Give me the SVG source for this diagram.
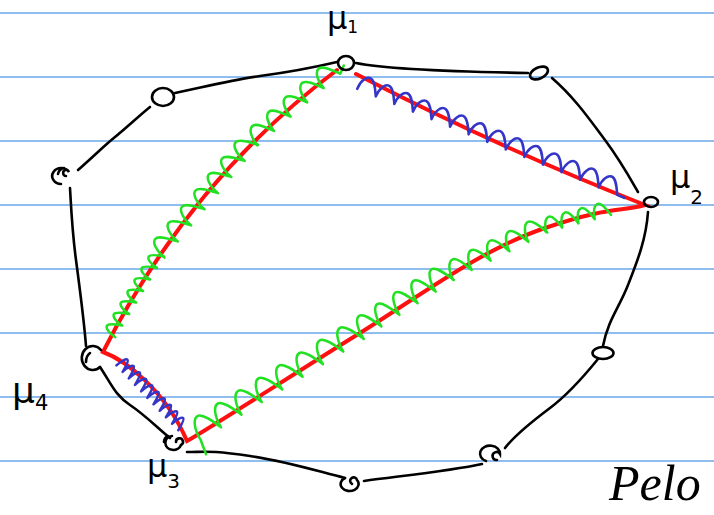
<svg xmlns="http://www.w3.org/2000/svg" width="714" height="515" viewBox="0 0 714 515">
<style>
.rule{stroke:#6aa7e8;stroke-width:1.5}
.edge{fill:none;stroke:#000;stroke-width:2.6;stroke-linecap:round;stroke-linejoin:round}
.node{fill:none;stroke:#000;stroke-width:2.6;stroke-linecap:round}
.red{fill:none;stroke:#ff1010;stroke-width:4;stroke-linecap:round;stroke-linejoin:miter}
.grn{fill:none;stroke:#22e022;stroke-width:2.5;stroke-linecap:round;stroke-linejoin:round}
.blu{fill:none;stroke:#3535c8;stroke-width:2.5;stroke-linecap:round;stroke-linejoin:round}
.lbl{font-family:"DejaVu Sans","Liberation Sans",sans-serif;fill:#000}
.sig{font-family:"Liberation Serif","DejaVu Serif",serif;font-style:italic;fill:#000}
</style>
<rect width="714" height="515" fill="#fff"/>
<g id="rules">
<line class="rule" x1="0" y1="13" x2="714" y2="13"/>
<line class="rule" x1="0" y1="77" x2="714" y2="77"/>
<line class="rule" x1="0" y1="141" x2="714" y2="141"/>
<line class="rule" x1="0" y1="205" x2="714" y2="205"/>
<line class="rule" x1="0" y1="269" x2="714" y2="269"/>
<line class="rule" x1="0" y1="333" x2="714" y2="333"/>
<line class="rule" x1="0" y1="397" x2="714" y2="397"/>
<line class="rule" x1="0" y1="461" x2="714" y2="461"/>
</g>
<g id="connectors">
<path class="edge" d="M356 63 C390 70 470 72 528 73"/>
<path class="edge" d="M552 78 C575 98 590 120 605 140 S630 178 638 192"/>
<path class="edge" d="M648 212 C646 240 637 262 628 285 S608 320 603 346"/>
<path class="edge" d="M598 359 C585 375 570 393 550 408 S515 435 505 448"/>
<path class="edge" d="M482 464 C450 471 400 476 364 481"/>
<path class="edge" d="M345 478 C320 472 290 462 250 456 S205 452 187 452"/>
<path class="edge" d="M170 438 C160 430 145 415 130 405 S112 385 100 367"/>
<path class="edge" d="M86 346 C84 320 80 290 76 260 S71 205 70 188"/>
<path class="edge" d="M78 170 C95 155 105 145 115 137 S140 115 150 107"/>
<path class="edge" d="M175 93 C200 88 230 80 260 76 S320 66 337 62"/>
<path class="red" d="M337 70 Q190 180 103 352 C125 360 165 390 187 441 C215 425 300 370 360 333 S480 250 545 228 S620 212 645 205 Q495 146 356 74"/>
<g id="green-m1-m4">
<path class="grn" transform="translate(111.9 335) rotate(-58.9)" d="M0 4 c0 -7.8 2.69 -13 5.38 -13 c3.37 0 6.06 7.8 8.08 13 c0 -7.8 2.69 -13 5.38 -13 c3.37 0 6.06 7.8 8.08 13 c0 -7.8 2.69 -13 5.38 -13 c3.37 0 6.06 7.8 8.08 13 c0 -7.8 2.69 -13 5.38 -13 c3.37 0 6.06 7.8 8.08 13 c0 -7.8 2.69 -13 5.38 -13 c3.37 0 6.06 7.8 8.08 13 c0 -7.8 2.69 -13 5.38 -13 c3.37 0 6.06 7.8 8.08 13 c0 -7.8 2.69 -13 5.38 -13 c3.37 0 6.06 7.8 8.08 13"/>
<path class="grn" transform="translate(160.6 254.4) rotate(-50.3)" d="M0 5 c0 -11.4 4.19 -19 8.38 -19 c5.24 0 9.42 11.4 12.56 19 c0 -11.4 4.19 -19 8.38 -19 c5.24 0 9.42 11.4 12.56 19 c0 -11.4 4.19 -19 8.38 -19 c5.24 0 9.42 11.4 12.56 19 c0 -11.4 4.19 -19 8.38 -19 c5.24 0 9.42 11.4 12.56 19 c0 -11.4 4.19 -19 8.38 -19 c5.24 0 9.42 11.4 12.56 19 c0 -11.4 4.19 -19 8.38 -19 c5.24 0 9.42 11.4 12.56 19 c0 -11.4 4.19 -19 8.38 -19 c5.24 0 9.42 11.4 12.56 19"/>
<path class="grn" transform="translate(254.2 141.6) rotate(-40.85)" d="M0 5 c0 -10.8 4.38 -18 8.76 -18 c5.48 0 9.86 10.8 13.14 18 c0 -10.8 4.38 -18 8.76 -18 c5.48 0 9.86 10.8 13.14 18 c0 -10.8 4.38 -18 8.76 -18 c5.48 0 9.86 10.8 13.14 18 c0 -10.8 4.38 -18 8.76 -18 c5.48 0 9.86 10.8 13.14 18 c0 -10.8 4.38 -18 8.76 -18 c5.48 0 9.86 10.8 13.14 18 l8 -4"/>
</g>
<g id="green-m3-m2">
<path class="grn" transform="translate(197 434) rotate(-31.78)" d="M-3 22 L0 7 c0 -13.2 4.79 -22 9.59 -22 c5.99 0 10.79 13.2 14.38 22 c0 -13.2 4.79 -22 9.59 -22 c5.99 0 10.79 13.2 14.38 22 c0 -13.2 4.79 -22 9.59 -22 c5.99 0 10.79 13.2 14.38 22 c0 -13.2 4.79 -22 9.59 -22 c5.99 0 10.79 13.2 14.38 22 c0 -13.2 4.79 -22 9.59 -22 c5.99 0 10.79 13.2 14.38 22 c0 -13.2 4.79 -22 9.59 -22 c5.99 0 10.79 13.2 14.38 22 c0 -13.2 4.79 -22 9.59 -22 c5.99 0 10.79 13.2 14.38 22 c0 -13.2 4.79 -22 9.59 -22 c5.99 0 10.79 13.2 14.38 22"/>
<path class="grn" transform="translate(360 333) rotate(-32.67)" d="M0 6 c0 -12.6 4.3 -21 8.61 -21 c5.38 0 9.68 12.6 12.91 21 c0 -12.6 4.3 -21 8.61 -21 c5.38 0 9.68 12.6 12.91 21 c0 -12.6 4.3 -21 8.61 -21 c5.38 0 9.68 12.6 12.91 21 c0 -12.6 4.3 -21 8.61 -21 c5.38 0 9.68 12.6 12.91 21 c0 -12.6 4.3 -21 8.61 -21 c5.38 0 9.68 12.6 12.91 21"/>
<path class="grn" transform="translate(450.6 274.9) rotate(-26.42)" d="M0 5 c0 -10.8 4.22 -18 8.43 -18 c5.27 0 9.49 10.8 12.65 18 c0 -10.8 4.22 -18 8.43 -18 c5.27 0 9.49 10.8 12.65 18 c0 -10.8 4.22 -18 8.43 -18 c5.27 0 9.49 10.8 12.65 18 c0 -10.8 4.22 -18 8.43 -18 c5.27 0 9.49 10.8 12.65 18 c0 -10.8 4.22 -18 8.43 -18 c5.27 0 9.49 10.8 12.65 18"/>
<path class="grn" transform="translate(545 228) rotate(-14.66)" d="M0 4 c0 -8.4 3.36 -14 6.72 -14 c4.2 0 7.56 8.4 10.08 14 c0 -8.4 3.36 -14 6.72 -14 c4.2 0 7.56 8.4 10.08 14 c0 -8.4 3.36 -14 6.72 -14 c4.2 0 7.56 8.4 10.08 14 c0 -8.4 3.36 -14 6.72 -14 c4.2 0 7.56 8.4 10.08 14"/>
</g>
<g id="blue-m1-m2">
<path class="blu" transform="translate(360 82) rotate(22.18)" d="M0 7.5 c0 -9 4.01 -15 8.02 -15 c5.02 0 9.03 9 12.04 15 c0 -9 4.01 -15 8.02 -15 c5.02 0 9.03 9 12.04 15 c0 -9 4.01 -15 8.02 -15 c5.02 0 9.03 9 12.04 15 c0 -9 4.01 -15 8.02 -15 c5.02 0 9.03 9 12.04 15 c0 -9 4.01 -15 8.02 -15 c5.02 0 9.03 9 12.04 15 c0 -9 4.01 -15 8.02 -15 c5.02 0 9.03 9 12.04 15 c0 -9 4.01 -15 8.02 -15 c5.02 0 9.03 9 12.04 15 c0 -9 4.01 -15 8.02 -15 c5.02 0 9.03 9 12.04 15 c0 -9 4.01 -15 8.02 -15 c5.02 0 9.03 9 12.04 15 c0 -9 4.01 -15 8.02 -15 c5.02 0 9.03 9 12.04 15 c0 -9 4.01 -15 8.02 -15 c5.02 0 9.03 9 12.04 15 c0 -9 4.01 -15 8.02 -15 c5.02 0 9.03 9 12.04 15 c0 -9 4.01 -15 8.02 -15 c5.02 0 9.03 9 12.04 15 c0 -9 4.01 -15 8.02 -15 c5.02 0 9.03 9 12.04 15 l8 0"/>
</g>
<g id="blue-m4-m3">
<path class="blu" transform="translate(120 362) rotate(46.33)" d="M0 5 c0 -7.2 1.79 -12 3.58 -12 c2.24 0 4.03 7.2 5.38 12 c0 -7.2 1.79 -12 3.58 -12 c2.24 0 4.03 7.2 5.38 12 c0 -7.2 1.79 -12 3.58 -12 c2.24 0 4.03 7.2 5.38 12 c0 -7.2 1.79 -12 3.58 -12 c2.24 0 4.03 7.2 5.38 12 c0 -7.2 1.79 -12 3.58 -12 c2.24 0 4.03 7.2 5.38 12 c0 -7.2 1.79 -12 3.58 -12 c2.24 0 4.03 7.2 5.38 12 c0 -7.2 1.79 -12 3.58 -12 c2.24 0 4.03 7.2 5.38 12 c0 -7.2 1.79 -12 3.58 -12 c2.24 0 4.03 7.2 5.38 12 c0 -7.2 1.79 -12 3.58 -12 c2.24 0 4.03 7.2 5.38 12 c0 -7.2 1.79 -12 3.58 -12 c2.24 0 4.03 7.2 5.38 12"/>
</g>
</g>
<g id="node-mu1"><ellipse class="node" cx="346" cy="63" rx="8" ry="7"/><text class="lbl" x="327" y="29" font-size="32">μ<tspan font-size="17" dy="4">1</tspan></text></g>
<g id="node-top-right"><ellipse class="node" cx="539" cy="73" rx="9.5" ry="5.5" transform="rotate(-25 539 73)"/></g>
<g id="node-mu2"><ellipse class="node" cx="651" cy="202" rx="7" ry="5"/><text class="lbl" x="670" y="188" font-size="32">μ<tspan font-size="20" dy="16">2</tspan></text></g>
<g id="node-right"><ellipse class="node" cx="603" cy="353" rx="10.5" ry="6"/></g>
<g id="node-bottom-right"><path class="node" d="M497 460 a4 4 0 1 1 3 -6 a10 8 0 1 0 -14 7"/></g>
<g id="node-bottom"><path class="node" d="M352 484 a3.5 3.5 0 1 1 5 -4 a9 7 0 1 1 -12 -2"/></g>
<g id="node-mu3"><path class="node" d="M176 442 a3.5 3.5 0 1 1 5 3 a8 7 0 1 1 -9 -9 M168 436 q-4 2 -4 6"/><text class="lbl" x="147" y="477" font-size="32">μ<tspan font-size="20" dy="11">3</tspan></text></g>
<g id="node-mu4"><path class="node" d="M101 350 a11 12 0 1 0 -1 17 M90 353 q-4 3 -4 9"/><text class="lbl" x="12" y="403" font-size="36">μ<tspan font-size="21" dy="7">4</tspan></text></g>
<g id="node-left"><path class="node" d="M66 176 a3 3 0 1 1 3 -4 a9 8 0 1 0 -8 12 M58 174 q1 -5 6 -6"/></g>
<g id="node-top-left"><ellipse class="node" cx="163" cy="97" rx="11" ry="9"/></g>
<text class="sig" x="609" y="500" font-size="50">Pelo</text>
</svg>
